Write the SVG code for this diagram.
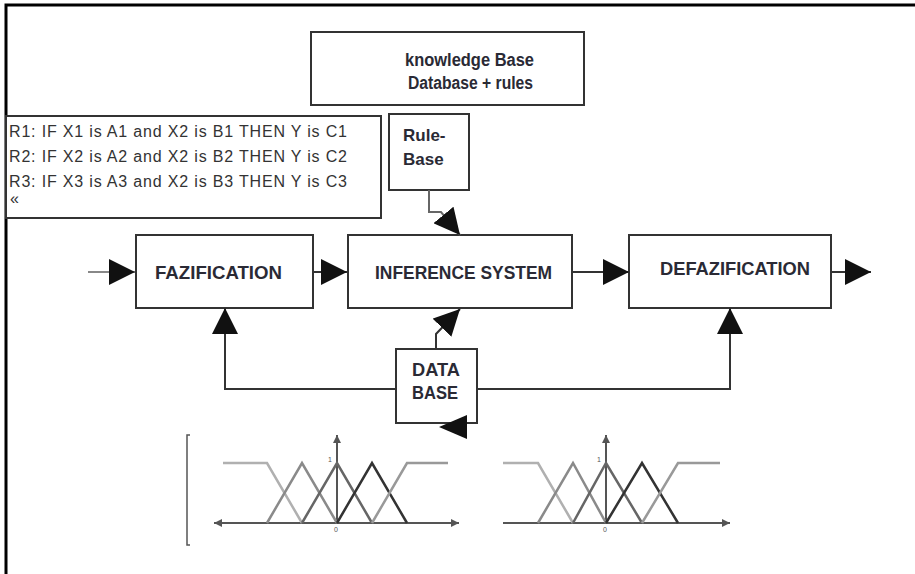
<svg xmlns="http://www.w3.org/2000/svg" width="915" height="574" viewBox="0 0 915 574">
<style>
.box{fill:#fff;stroke:#333;stroke-width:2}
.lbl{font-family:"Liberation Sans",Arial,sans-serif;font-weight:bold;fill:#2a2a35}
.rule{font-family:"Liberation Sans",Arial,sans-serif;fill:#333;font-size:16px}
.con{fill:none;stroke:#333;stroke-width:2}
.ax{fill:none;stroke:#555;stroke-width:2}
.mf{fill:none;stroke-width:2.5;stroke-linejoin:miter}
.tiny{font-family:"Liberation Sans",Arial,sans-serif;font-size:7px;fill:#555}
</style>
<defs>
<marker id="ah" viewBox="0 0 26 26" refX="26" refY="13" markerWidth="26" markerHeight="26" markerUnits="userSpaceOnUse" orient="auto">
<path d="M0,0 L26,13 L0,26 z" fill="#111"/>
</marker>
<marker id="sa" viewBox="0 0 8 8" refX="8" refY="4" markerWidth="8" markerHeight="8" markerUnits="userSpaceOnUse" orient="auto">
<path d="M0,0 L8,4 L0,8 z" fill="#555"/>
</marker>
</defs>
<rect width="915" height="574" fill="#fff"/>
<path d="M6,574 V5 H915" fill="none" stroke="#000" stroke-width="3"/>

<g id="knowledge-base">
<rect class="box" x="311" y="32" width="273" height="73"/>
<text class="lbl" x="405" y="66" font-size="18" textLength="129" lengthAdjust="spacingAndGlyphs">knowledge Base</text>
<text class="lbl" x="408" y="89" font-size="18" textLength="125" lengthAdjust="spacingAndGlyphs">Database + rules</text>
</g>

<g id="rules">
<rect class="box" x="6" y="116" width="375" height="102"/>
<text class="rule" x="9" y="137" textLength="338" lengthAdjust="spacing">R1: IF X1 is A1 and  X2 is  B1 THEN Y is C1</text>
<text class="rule" x="9" y="162" textLength="338" lengthAdjust="spacing">R2: IF X2 is A2 and  X2 is  B2 THEN Y is C2</text>
<text class="rule" x="9" y="187" textLength="338" lengthAdjust="spacing">R3: IF X3 is A3 and  X2 is  B3 THEN Y is C3</text>
<text class="rule" x="10" y="204" font-size="10" fill="#999">«</text>
</g>

<g id="rule-base">
<rect class="box" x="389" y="114" width="80" height="76"/>
<text class="lbl" x="403" y="141" font-size="17">Rule-</text>
<text class="lbl" x="403" y="165" font-size="17">Base</text>
</g>

<g id="fazification">
<rect class="box" x="136" y="235" width="177" height="73"/>
<text class="lbl" x="155" y="279" font-size="19" textLength="127" lengthAdjust="spacingAndGlyphs">FAZIFICATION</text>
</g>

<g id="inference">
<rect class="box" x="348" y="235" width="224" height="73"/>
<text class="lbl" x="375" y="279" font-size="19" textLength="177" lengthAdjust="spacingAndGlyphs">INFERENCE SYSTEM</text>
</g>

<g id="defazification">
<rect class="box" x="629" y="235" width="202" height="73"/>
<text class="lbl" x="660" y="275" font-size="19" textLength="150" lengthAdjust="spacingAndGlyphs">DEFAZIFICATION</text>
</g>

<g id="data-base">
<rect class="box" x="396" y="349" width="81" height="74"/>
<text class="lbl" x="412" y="376" font-size="19" textLength="48" lengthAdjust="spacingAndGlyphs">DATA</text>
<text class="lbl" x="412" y="399" font-size="19" textLength="46" lengthAdjust="spacingAndGlyphs">BASE</text>
</g>

<g id="connectors">
<path d="M88,272 H135" fill="none" stroke="#888" stroke-width="2" marker-end="url(#ah)"/>
<path class="con" d="M313,272 H347" marker-end="url(#ah)"/>
<path class="con" d="M572,272 H629" marker-end="url(#ah)"/>
<path class="con" d="M831,272 H871" marker-end="url(#ah)"/>
<path d="M429,190 V212 H441 L460,235" fill="none" stroke="#666" stroke-width="2" marker-end="url(#ah)"/>
<path class="con" d="M436,349 V334 L460,309" marker-end="url(#ah)"/>
<path class="con" d="M396,389 H225 V308" marker-end="url(#ah)"/>
<path class="con" d="M477,389 H730 V308" marker-end="url(#ah)"/>
<polygon points="467,415 467,439 439,427" fill="#111"/>
</g>

<g id="membership-1">
<path d="M190,435 H187 V545 H190" fill="none" stroke="#555" stroke-width="1.5"/>
<path class="ax" d="M222,523 H459" marker-end="url(#sa)"/>
<path class="ax" d="M230,523 H214" marker-end="url(#sa)"/>
<path class="ax" d="M337,523 V435" marker-end="url(#sa)"/>
<polyline class="mf" stroke="#b0b0b0" points="223,463 267,463 302,523"/>
<polyline class="mf" stroke="#8a8a8a" points="267,523 302,463 337,523"/>
<polyline class="mf" stroke="#666" points="302,523 337,463 372,523"/>
<polyline class="mf" stroke="#333" points="337,523 372,463 407,523"/>
<polyline class="mf" stroke="#999" points="372,523 407,463 448,463"/>
<text class="tiny" x="328" y="462">1</text>
<text class="tiny" x="334" y="532">0</text>
</g>

<g id="membership-2">
<path class="ax" d="M503,523 H730" marker-end="url(#sa)"/>
<path class="ax" d="M606,523 V435" marker-end="url(#sa)"/>
<polyline class="mf" stroke="#b0b0b0" points="503,463 538,463 573,523"/>
<polyline class="mf" stroke="#8a8a8a" points="538,523 573,463 606,523"/>
<polyline class="mf" stroke="#666" points="573,523 606,463 642,523"/>
<polyline class="mf" stroke="#333" points="606,523 642,463 678,523"/>
<polyline class="mf" stroke="#999" points="642,523 678,463 720,463"/>
<text class="tiny" x="597" y="462">1</text>
<text class="tiny" x="603" y="532">0</text>
</g>
</svg>
